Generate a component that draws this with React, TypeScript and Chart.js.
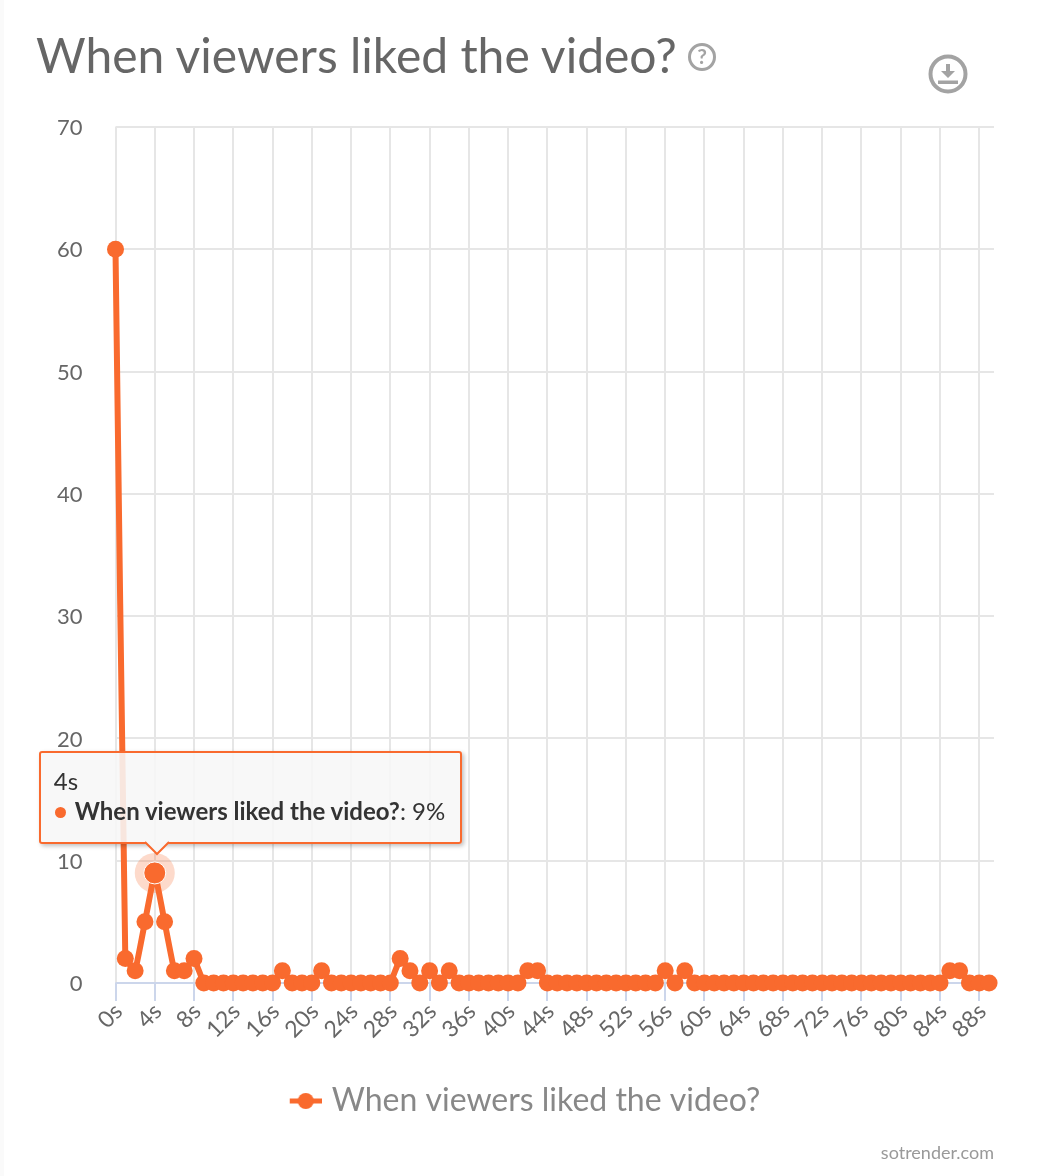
import { useEffect, useRef } from "react";
import { Chart, registerables } from "chart.js";

Chart.register(...registerables);

const seriesName = "When viewers liked the video?";
const siteName = "sotrender.com";
const activeSecond = 4;

// one value per second, 0s to 89s
const likes = [
  60, 2, 1, 5, 9, 5, 1, 1, 2, 0,
  0, 0, 0, 0, 0, 0, 0, 1, 0, 0,
  0, 1, 0, 0, 0, 0, 0, 0, 0, 2,
  1, 0, 1, 0, 1, 0, 0, 0, 0, 0,
  0, 0, 1, 1, 0, 0, 0, 0, 0, 0,
  0, 0, 0, 0, 0, 0, 1, 0, 1, 0,
  0, 0, 0, 0, 0, 0, 0, 0, 0, 0,
  0, 0, 0, 0, 0, 0, 0, 0, 0, 0,
  0, 0, 0, 0, 0, 1, 1, 0, 0, 0,
];

const orange = "#f96a2e";
const iconGrey = "#a3a3a3";
const font = "Lato, sans-serif";

const legendIcon = () => {
  const c = document.createElement("canvas");
  c.width = 40;
  c.height = 20;
  const ctx = c.getContext("2d")!;
  ctx.fillStyle = orange;
  ctx.fillRect(8, 7.5, 32, 5);
  ctx.beginPath();
  ctx.arc(24, 10, 8, 0, Math.PI * 2);
  ctx.fill();
  return c;
};

const renderTooltip = ({ chart, tooltip }: any, el: HTMLDivElement | null) => {
  if (!el || !tooltip.dataPoints?.length) return;
  const [name, value] = tooltip.body[0].lines[0].split("|");
  el.style.display = "block";
  el.style.left = `${tooltip.caretX + chart.canvas.offsetLeft - 116}px`;
  el.style.top = `${tooltip.caretY + chart.canvas.offsetTop - 121.500}px`;
  el.querySelector<HTMLElement>("[data-title]")!.textContent = tooltip.title[0];
  el.querySelector<HTMLElement>("[data-name]")!.textContent = name;
  el.querySelector<HTMLElement>("[data-value]")!.textContent = value;
};

export default function App() {
  const canvasRef = useRef<HTMLCanvasElement | null>(null);
  const tipRef = useRef<HTMLDivElement | null>(null);

  useEffect(() => {
    if (!canvasRef.current) return;
    const chart = new Chart(canvasRef.current, {
      type: "line",
      data: {
        datasets: [
          {
            label: seriesName,
            data: likes.map((y, x) => ({ x, y })),
            borderColor: orange,
            backgroundColor: orange,
            borderWidth: 6,
            tension: 0.06,
            clip: false,
            order: 1,
            pointRadius: (ctx: any) => (ctx.dataIndex === activeSecond ? 11 : 8.5),
            pointBorderWidth: (ctx: any) => (ctx.dataIndex === activeSecond ? 1 : 0),
            pointBorderColor: "#fff",
            pointBackgroundColor: orange,
          },
          {
            label: "halo",
            data: [{ x: activeSecond, y: likes[activeSecond] }],
            backgroundColor: "rgba(249,106,46,0.25)",
            borderWidth: 0,
            showLine: false,
            pointRadius: 20,
            pointBorderWidth: 0,
            order: 2,
          },
        ],
      },
      options: {
        responsive: false,
        animation: false,
        events: [],
        layout: { padding: { top: 127, left: 54, right: 44, bottom: 49 } },
        scales: {
          x: {
            type: "linear",
            min: 0,
            max: 89.5,
            afterFit: (s: any) => {
              s.height = 92;
            },
            grid: {
              color: "#e6e6e6",
              lineWidth: 2,
              tickColor: "#ccd6eb",
              tickLength: 18,
              drawTicks: true,
            },
            border: { display: false },
            ticks: {
              stepSize: 4,
              includeBounds: false,
              autoSkip: false,
              minRotation: 45,
              maxRotation: 45,
              padding: -3,
              labelOffset: 3,
              color: "#666",
              font: { family: font, size: 23 },
              callback: (v: any) => `${v}s`,
            },
          },
          y: {
            min: 0,
            max: 70,
            afterFit: (s: any) => {
              s.width = 61.5;
            },
            grid: {
              color: (ctx: any) => (ctx.tick.value === 0 ? "#ccd6eb" : "#e6e6e6"),
              lineWidth: 2,
              tickLength: 0,
            },
            border: { display: false },
            ticks: {
              stepSize: 10,
              padding: 33,
              labelOffset: 1,
              color: "#666",
              font: { family: font, size: 22 },
            },
          },
        },
        plugins: {
          legend: {
            position: "bottom",
            labels: {
              filter: (item: any) => item.text === seriesName,
              usePointStyle: true,
              pointStyle: legendIcon(),
              pointStyleWidth: 28,
              boxWidth: 28,
              boxHeight: 20,
              color: "#888",
              padding: 10,
              font: { family: font, size: 32 },
            },
          },
          tooltip: {
            enabled: false,
            external: (ctx: any) => renderTooltip(ctx, tipRef.current),
            filter: (item: any) => item.datasetIndex === 0,
            callbacks: {
              title: (items: any) => `${items[0].parsed.x}s`,
              label: (item: any) => `${item.dataset.label}|${item.parsed.y}%`,
            },
          },
        },
      } as any,
    });
    const active = [{ datasetIndex: 0, index: activeSecond }];
    chart.tooltip?.setActiveElements(active, { x: 0, y: 0 });
    chart.update();
    return () => {
      chart.destroy();
    };
  }, []);

  return (
    <div style={{ position: "absolute", left: 0, top: 0, width: 1038, height: 1176, fontFamily: font, background: "#fff", overflow: "hidden" }}>
      <div style={{ position: "absolute", left: 0, top: 0, width: 4, height: 1176, background: "#fafafa" }} />
      <canvas ref={canvasRef} width={1038} height={1176} style={{ position: "absolute", left: 0, top: 0 }} />
      <div style={{ position: "absolute", left: 36, top: 27, fontSize: 48, lineHeight: "56px", color: "#666", whiteSpace: "nowrap" }}>
        {seriesName}
      </div>
      <svg width={30} height={30} style={{ position: "absolute", left: 687, top: 42 }}>
        <circle cx={15} cy={15} r={12.500} fill="none" stroke={iconGrey} strokeWidth={3} />
        <text x={15} y={22} textAnchor="middle" fontSize={21} fontWeight={700} fontFamily={font} fill={iconGrey}>?</text>
      </svg>
      <svg width={44} height={44} style={{ position: "absolute", left: 926, top: 52 }}>
        <circle cx={22} cy={22} r={17.500} fill="none" stroke={iconGrey} strokeWidth={4} />
        <path d="M20 12h4v7h5l-7 7-7-7h5z" fill={iconGrey} />
        <rect x={12} y={28.500} width={20} height={3.500} fill={iconGrey} />
      </svg>
      <div style={{ position: "absolute", right: 44, top: 1141, fontSize: 18, lineHeight: "22px", color: "#999" }}>{siteName}</div>
      <div
        ref={tipRef}
        style={{
          display: "none",
          position: "absolute",
          width: 423,
          height: 93,
          boxSizing: "border-box",
          border: `2px solid ${orange}`,
          borderRadius: 3,
          background: "rgba(247,247,247,0.88)",
          boxShadow: "2px 2px 4px rgba(0,0,0,0.25)",
          color: "#333",
          fontSize: 24,
        }}
      >
        <div data-title="" style={{ position: "absolute", left: 13, top: 14, lineHeight: "28px" }} />
        <div style={{ position: "absolute", left: 14, top: 43, lineHeight: "30px", whiteSpace: "nowrap" }}>
          <span style={{ display: "inline-block", width: 11, height: 11, borderRadius: 6, background: orange, marginRight: 9, verticalAlign: 2 }} />
          <b data-name="" />
          <span>: </span>
          <span data-value="" />
        </div>
        <svg width={26} height={15} style={{ position: "absolute", left: 103, top: 88 }}>
          <path d="M1 1 L13 13 L25 1" fill="#f7f7f7" stroke={orange} strokeWidth={2} />
        </svg>
      </div>
    </div>
  );
}
